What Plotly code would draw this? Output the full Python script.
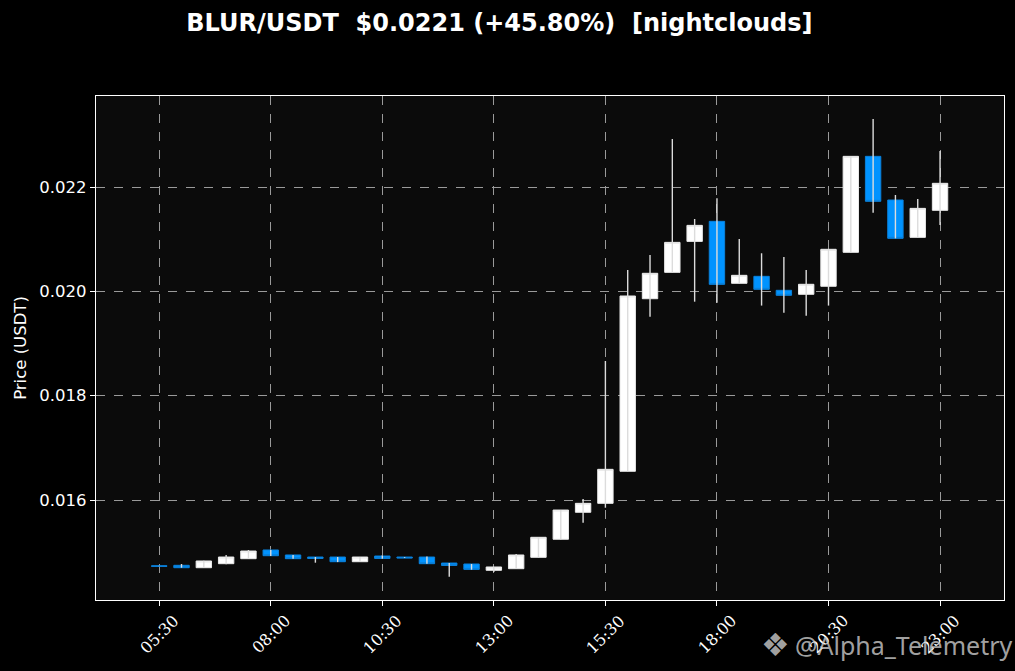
import pandas as pd
import plotly.graph_objects as go

# 30 minute candles, 05:30 -> 23:00
times = pd.date_range('2024-01-01 05:30', '2024-01-01 23:00', freq='30min')

open_ = [0.014740, 0.014748, 0.014702, 0.014779, 0.014875, 0.015042, 0.014946, 0.014907,
         0.014907, 0.014817, 0.014926, 0.014907, 0.014907, 0.014792, 0.014773, 0.014652,
         0.014683, 0.014901, 0.015247, 0.015764, 0.015936, 0.016550, 0.019859, 0.020364,
         0.020958, 0.021342, 0.020154, 0.020288, 0.020020, 0.019943, 0.020097, 0.020748,
         0.022588, 0.021751, 0.021035, 0.021553]
high = [0.014740, 0.014773, 0.014835, 0.014946, 0.015042, 0.015042, 0.014946, 0.014907,
        0.014907, 0.014907, 0.014940, 0.014907, 0.014915, 0.014792, 0.014773, 0.014716,
        0.014965, 0.015285, 0.015808, 0.016019, 0.018665, 0.020409, 0.020697, 0.022920,
        0.021387, 0.021783, 0.021004, 0.020730, 0.020659, 0.020409, 0.020806, 0.022588,
        0.023304, 0.021847, 0.021770, 0.022690]
low = [0.014728, 0.014702, 0.014702, 0.014770, 0.014875, 0.014925, 0.014875, 0.014798,
       0.014810, 0.014810, 0.014875, 0.014890, 0.014779, 0.014530, 0.014664, 0.014620,
       0.014683, 0.014901, 0.015247, 0.015565, 0.015852, 0.016550, 0.019514, 0.020364,
       0.019802, 0.019783, 0.020154, 0.019727, 0.019591, 0.019533, 0.019727, 0.020748,
       0.021508, 0.021016, 0.021035, 0.021271]
close = [0.014728, 0.014702, 0.014831, 0.014907, 0.015022, 0.014932, 0.014875, 0.014880,
         0.014817, 0.014907, 0.014880, 0.014890, 0.014779, 0.014745, 0.014670, 0.014716,
         0.014946, 0.015285, 0.015808, 0.015936, 0.016588, 0.019911, 0.020346, 0.020939,
         0.021265, 0.020134, 0.020307, 0.020039, 0.019924, 0.020135, 0.020806, 0.022588,
         0.021726, 0.021016, 0.021591, 0.022071]

tick_times = times[::5]
tick_labels = ['05:30', '08:00', '10:30', '13:00', '15:30', '18:00', '20:30', '23:00']

UP = '#ffffff'
DOWN = '#0093ff'

# wicks drawn as one line trace, bodies on top
wx, wy = [], []
for t, h, l in zip(times, high, low):
    wx += [t, t, None]
    wy += [l, h, None]

body_hi = [max(o, c) for o, c in zip(open_, close)]
body_lo = [min(o, c) for o, c in zip(open_, close)]

fig = go.Figure()
fig.add_trace(go.Scatter(
    x=wx, y=wy, mode='lines',
    line=dict(color='#dcdcdc', width=1.4),
    hoverinfo='skip'
))
fig.add_trace(go.Candlestick(
    x=times, open=open_, high=body_hi, low=body_lo, close=close,
    increasing=dict(fillcolor=UP, line=dict(color='#e8e8e8', width=1)),
    decreasing=dict(fillcolor=DOWN, line=dict(color='#0a80da', width=1)),
    whiskerwidth=0
))

# rotated time labels, centred under each tick like matplotlib
for t, lab in zip(tick_times, tick_labels):
    fig.add_annotation(
        x=t, xref='x', y=0, yref='paper', yshift=-34,
        text=lab, textangle=-45, showarrow=False,
        font=dict(family='DejaVu Serif', size=16, color='white'),
        xanchor='center', yanchor='middle'
    )

# watermark
fig.add_annotation(
    x=0.748, xref='paper', y=0, yref='paper', yshift=-45,
    text='❖', showarrow=False,
    font=dict(family='DejaVu Sans', size=32, color='rgba(205,205,205,0.8)'),
    xanchor='center', yanchor='middle'
)
fig.add_annotation(
    x=0.768, xref='paper', y=0, yref='paper', yshift=-45,
    text='@Alpha_Telemetry', showarrow=False,
    font=dict(family='Noto Sans', size=25, color='rgba(205,205,205,0.8)'),
    xanchor='left', yanchor='middle'
)

fig.update_layout(
    title=dict(text='<b>BLUR/USDT  $0.0221 (+45.80%)  [nightclouds]</b>',
               x=0.492, xanchor='center', y=0.967, yanchor='middle',
               font=dict(family='DejaVu Sans', size=24, color='white')),
    paper_bgcolor='#000000',
    plot_bgcolor='#0b0b0b',
    width=1015, height=671,
    margin=dict(l=96, r=11, t=96, b=71),
    showlegend=False,
    boxgap=0,
    boxgroupgap=0.31,
    xaxis=dict(
        range=['2024-01-01 04:05', '2024-01-02 00:26'],
        rangeslider=dict(visible=False),
        tickmode='array', tickvals=tick_times, showticklabels=False,
        ticks='outside', ticklen=5, tickcolor='white',
        showgrid=True, gridcolor='#9a9a9a', griddash='dash', gridwidth=1,
        showline=True, linecolor='white', linewidth=1.2, mirror=True,
        zeroline=False
    ),
    yaxis=dict(
        range=[0.014083, 0.023745],
        tickmode='array', tickvals=[0.016, 0.018, 0.020, 0.022],
        ticktext=['0.016', '0.018', '0.020', '0.022'],
        ticks='outside', ticklen=5, tickcolor='white',
        tickfont=dict(family='DejaVu Sans', size=16.5, color='white'),
        title=dict(text='Price (USDT)', standoff=8,
                   font=dict(family='DejaVu Sans', size=16.5, color='white')),
        showgrid=True, gridcolor='#9a9a9a', griddash='dash', gridwidth=1,
        showline=True, linecolor='white', linewidth=1.2, mirror=True,
        zeroline=False
    )
)

fig.write_html('out.html', config={'displayModeBar': False},
               post_script="document.body.style.margin='0';document.body.style.background='#000';")
